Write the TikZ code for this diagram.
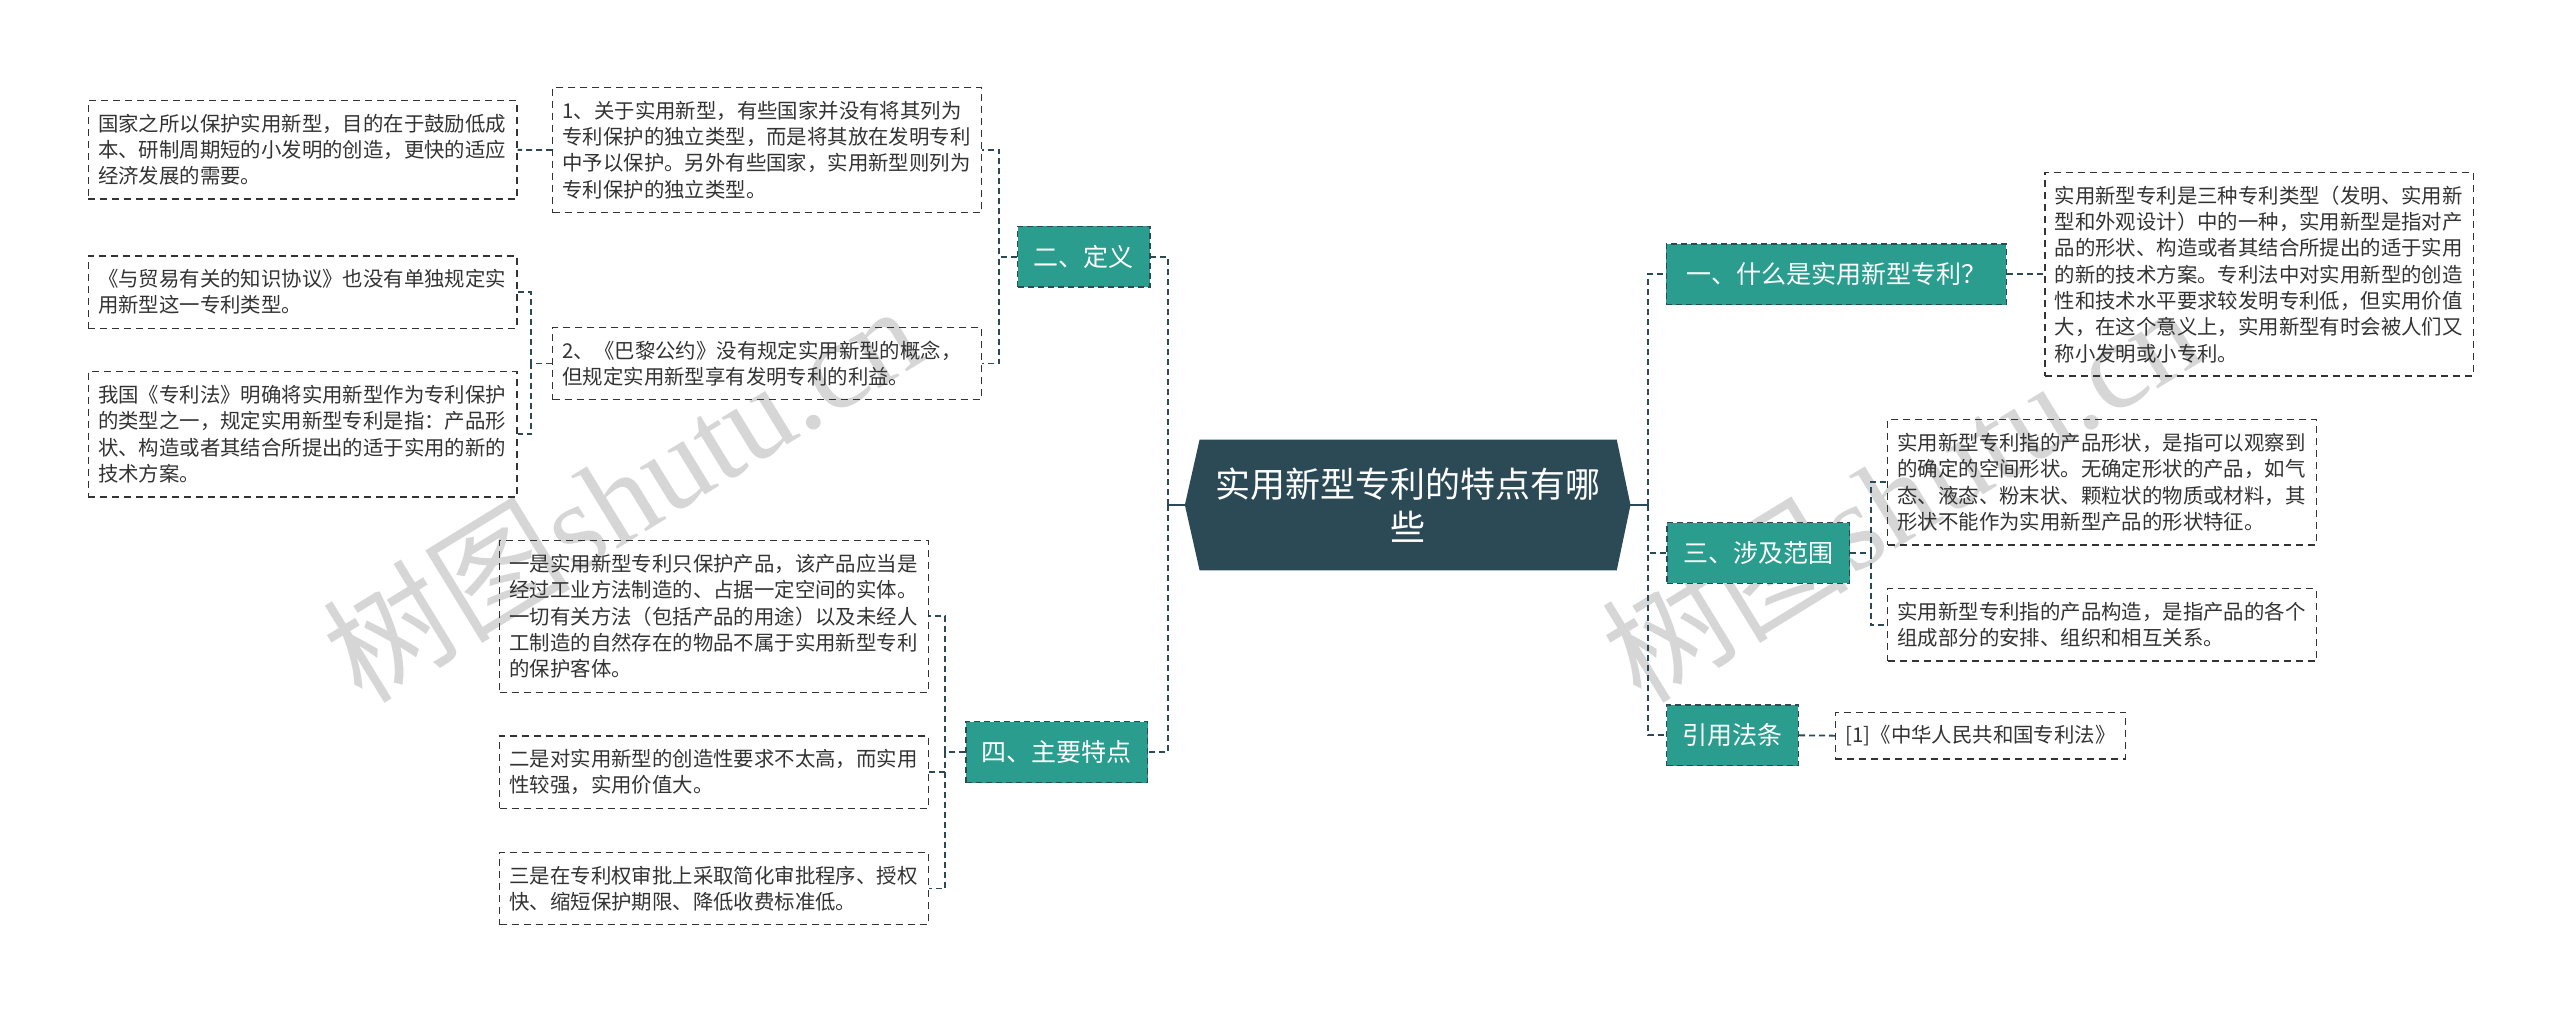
\documentclass[tikz,border=0pt]{standalone}
\usepackage{fontspec}
\setmainfont{Noto Sans CJK SC}
\newfontfamily\wmlatin{Liberation Serif}
\usetikzlibrary{calc,backgrounds}
\XeTeXlinebreaklocale "zh"
\definecolor{dark}{HTML}{2B4A56}
\definecolor{brteal}{HTML}{2A9D8F}
\definecolor{txt}{HTML}{333333}
\tikzset{
 leafbase/.style={draw=txt, line width=0.7pt, dash pattern=on 3.5pt off 2.5pt, text=txt,
   font=\fontsize{10.2pt}{13.15pt}\selectfont, inner ysep=0pt, anchor=center},
 leaf/.style={leafbase, align=left, text width=204.5pt, inner xsep=4.9pt, minimum width=214.3pt},
 branch/.style={fill=brteal, draw=dark, line width=0.7pt, dash pattern=on 3pt off 2pt, text=white,
   font=\fontsize{12.5pt}{15pt}\selectfont, minimum height=30.4pt, inner xsep=0pt, inner ysep=0pt},
 conn/.style={draw=dark, line width=0.9pt, dash pattern=on 3pt off 2pt},
 stem/.style={draw=dark, line width=1.2pt},
 wm/.style={text=black!16, font=\fontsize{62pt}{62pt}\selectfont, inner sep=0pt, anchor=base west, rotate=31.5},
}
\begin{document}
\begin{tikzpicture}[x=0.8163pt, y=-0.8163pt]
\useasboundingbox (0,0) rectangle (1568,620);

% watermarks
\node[wm] (wm1) at (222,432) {树图{\wmlatin shutu.cn}};
\node[wm] (wm2) at (1005,432) {树图{\wmlatin shutu.cn}};

% root
\node[minimum width=222.4pt, minimum height=64.9pt, inner sep=0pt, text=white, align=center,
      font=\fontsize{17.5pt}{21.8pt}\selectfont] (root) at (862.2,309.3) {实用新型专利的特点有哪\\些};
\begin{pgfonlayer}{background}
\fill[white] (0,0) rectangle (1568,620);
\fill[dark] (root.west) -- ($(root.north west)+(9,0)$) -- ($(root.north east)+(-8.4,0)$) -- (root.east)
  -- ($(root.south east)+(-8.4,0)$) -- ($(root.south west)+(9,0)$) -- cycle;
\end{pgfonlayer}

% branches
\node[branch, minimum width=66.1pt] (b2) at (663.8,157.2) {二、定义};
\node[branch, minimum width=90.9pt] (b4) at (647.3,460.7) {四、主要特点};
\node[branch, minimum width=170pt] (b1) at (1124.7,168) {一、什么是实用新型专利？};
\node[branch, minimum width=91.4pt] (b3) at (1077,338.7) {三、涉及范围};
\node[branch, minimum width=65.8pt] (b5) at (1061.2,450.4) {引用法条};

% left leaves
\node[leaf, minimum height=49.1pt] (l1) at (185.3,91.8) {国家之所以保护实用新型，目的在于鼓励低成\\本、研制周期短的小发明的创造，更快的适应\\经济发展的需要。};
\node[leaf, minimum height=62.7pt] (l2) at (469.8,91.9) {1、关于实用新型，有些国家并没有将其列为\\专利保护的独立类型，而是将其放在发明专利\\中予以保护。另外有些国家，实用新型则列为\\专利保护的独立类型。};
\node[leaf, minimum height=36.2pt] (l3) at (185.3,178.9) {《与贸易有关的知识协议》也没有单独规定实\\用新型这一专利类型。};
\node[leaf, minimum height=36.2pt] (l4) at (469.8,222.7) {2、《巴黎公约》没有规定实用新型的概念，\\但规定实用新型享有发明专利的利益。};
\node[leaf, minimum height=62.7pt] (l5) at (185.3,266) {我国《专利法》明确将实用新型作为专利保护\\的类型之一，规定实用新型专利是指：产品形\\状、构造或者其结合所提出的适于实用的新的\\技术方案。};
\node[leaf, minimum height=75.9pt] (f1) at (437.3,377.5) {一是实用新型专利只保护产品，该产品应当是\\经过工业方法制造的、占据一定空间的实体。\\一切有关方法（包括产品的用途）以及未经人\\工制造的自然存在的物品不属于实用新型专利\\的保护客体。};
\node[leaf, minimum height=36.2pt] (f2) at (437.3,473) {二是对实用新型的创造性要求不太高，而实用\\性较强，实用价值大。};
\node[leaf, minimum height=36.2pt] (f3) at (437.3,544.2) {三是在专利权审批上采取简化审批程序、授权\\快、缩短保护期限、降低收费标准低。};

% right leaves
\node[leaf, minimum height=101.6pt] (r1) at (1383.8,168) {实用新型专利是三种专利类型（发明、实用新\\型和外观设计）中的一种，实用新型是指对产\\品的形状、构造或者其结合所提出的适于实用\\的新的技术方案。专利法中对实用新型的创造\\性和技术水平要求较发明专利低，但实用价值\\大，在这个意义上，实用新型有时会被人们又\\称小发明或小专利。};
\node[leaf, minimum height=62.7pt] (r2) at (1287.5,295.3) {实用新型专利指的产品形状，是指可以观察到\\的确定的空间形状。无确定形状的产品，如气\\态、液态、粉末状、颗粒状的物质或材料，其\\形状不能作为实用新型产品的形状特征。};
\node[leaf, minimum height=36.2pt] (r3) at (1287.5,382.8) {实用新型专利指的产品构造，是指产品的各个\\组成部分的安排、组织和相互关系。};
\node[leafbase, minimum width=145.1pt, minimum height=23.4pt, inner xsep=3pt] (r4) at (1213.1,450.6) {[1]《中华人民共和国专利法》};

% trunk connectors
\coordinate (jl) at (715.5,309.3);
\coordinate (jr) at (1009.5,309.3);
\draw[stem] (root.west) -- (jl);
\draw[stem] (root.east) -- (jr);
\draw[conn] (jl) |- (b2.east);
\draw[conn] (jl) |- (b4.east);
\draw[conn] (jr) |- (b1.west);
\draw[conn] (jr) |- (b3.west);
\draw[conn] (jr) |- (b5.west);

% second level
\draw[conn] (b2.west) -- ++(-10.8,0) |- (l2.east);
\draw[conn] (b2.west) -- ++(-10.8,0) |- (l4.east);
\draw[conn] (l2.west) -- (l1.east);
\draw[conn] (l4.west) -- ++(-12.9,0) |- (l3.east);
\draw[conn] (l4.west) -- ++(-12.9,0) |- (l5.east);
\draw[conn] (b4.west) -- ++(-12.2,0) |- (f1.east);
\draw[conn] (b4.west) -- ++(-12.2,0) |- (f2.east);
\draw[conn] (b4.west) -- ++(-12.2,0) |- (f3.east);
\draw[conn] (b1.east) -- (r1.west);
\draw[conn] (b3.east) -- ++(12.4,0) |- (r2.west);
\draw[conn] (b3.east) -- ++(12.4,0) |- (r3.west);
\draw[conn] (b5.east) -- (r4.west);
\end{tikzpicture}
\end{document}
